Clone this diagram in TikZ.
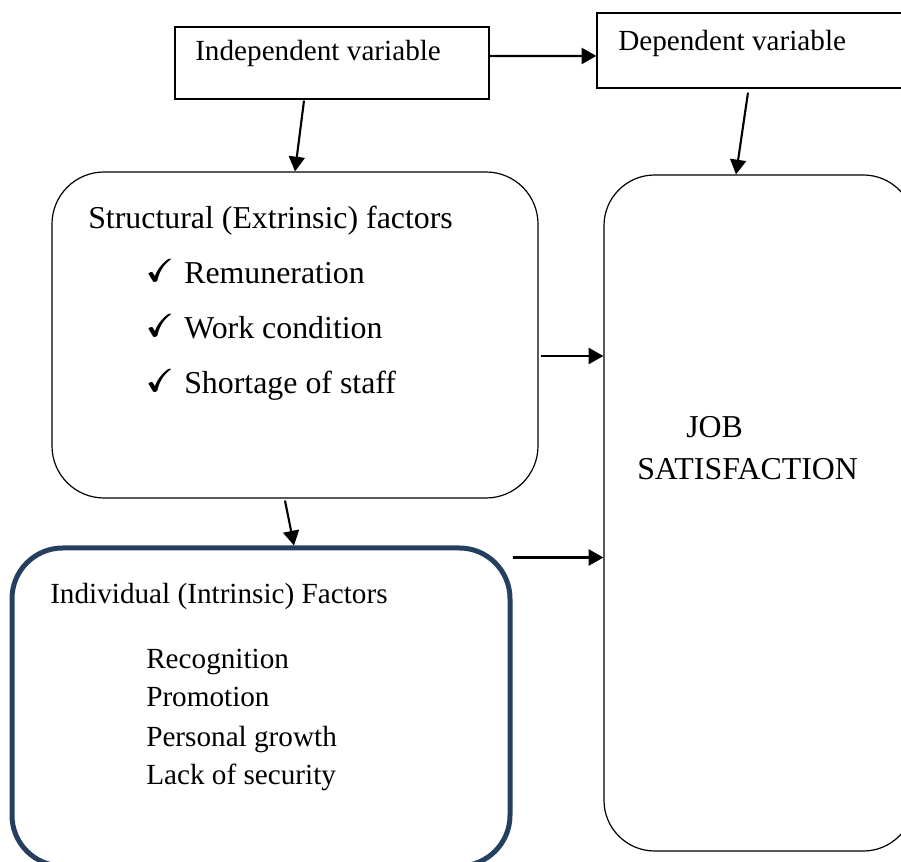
\documentclass[tikz,border=0pt]{standalone}
\usepackage{amsmath}
\usepackage{amssymb}
\usepackage{fontspec}
\setmainfont{Liberation Serif}
\usepackage{tikz}
\usetikzlibrary{arrows.meta,positioning,calc}
\definecolor{darkblue}{HTML}{243F60}

\begin{document}
\begin{tikzpicture}[x=0.75pt,y=-0.75pt,>={Triangle[length=11pt,width=12pt]},
  plain box/.style={rectangle,draw,line width=0.9pt},
  round box/.style={rectangle,draw,line width=0.9pt,rounded corners=38pt},
  small text/.style={anchor=base west,inner sep=0pt,font=\fontsize{21.9}{26}\selectfont},
  big text/.style={anchor=base west,inner sep=0pt,font=\fontsize{23.9}{28}\selectfont},
  arrow line/.style={->,line width=1.6pt}]

  \useasboundingbox (0,0) rectangle (901,862);
  \clip (0,0) rectangle (901,862);

  % boxes
  \node[plain box,minimum width=235.5pt,minimum height=54pt] at (332,63) (indep) {};
  \node[plain box,minimum width=240pt,minimum height=56.25pt] at (757,50.5) (dep) {};
  \node[round box,minimum width=364.5pt,minimum height=244.5pt,rounded corners=39pt] at (295,335) (struct) {};
  \node[round box,minimum width=232.5pt,minimum height=507pt] at (759,513) (job) {};
  \node[round box,darkblue,line width=3.75pt,minimum width=373.5pt,minimum height=238.5pt] at (261,707) (indiv) {};

  % texts
  \node[small text] at (195,61) (indeptxt) {Independent variable};
  \node[small text] at (618,51) (deptxt) {Dependent variable};
  \node[big text] at (88,229) (structtxt) {Structural (Extrinsic) factors};
  \node[big text] at (147,284) (rem) {\makebox[27.75pt][l]{\raisebox{1.5pt}{$\pmb{\checkmark}$}}Remuneration};
  \node[big text] at (147,339) (work) {\makebox[27.75pt][l]{\raisebox{1.5pt}{$\pmb{\checkmark}$}}Work condition};
  \node[big text] at (147,394) (short) {\makebox[27.75pt][l]{\raisebox{1.5pt}{$\pmb{\checkmark}$}}Shortage of staff};
  \node[big text] at (686,438) (jobtxt) {JOB};
  \node[big text] at (637,480) (sattxt) {SATISFACTION};
  \node[small text] at (50,604) (indivtxt) {Individual (Intrinsic) Factors};
  \node[small text] at (146,669) (rec) {Recognition};
  \node[small text] at (146,707) (prom) {Promotion};
  \node[small text] at (146,747) (grow) {Personal growth};
  \node[small text] at (146,785) (sec) {Lack of security};

  % connectors
  \coordinate (s1) at ([xshift=1.5pt,yshift=-15.75pt]struct.east);
  \coordinate (s2) at ([yshift=-9pt]indiv.north east);
  \draw[arrow line] ([yshift=5.25pt]indep.east) -- ([yshift=-4.1pt]dep.west);
  \draw[arrow line] ([xshift=-21pt,yshift=-0.75pt]indep.south) -- (struct.north);
  \draw[arrow line] ([xshift=-6.75pt,yshift=-3pt]dep.south) -- ([xshift=-17.25pt]job.north);
  \draw[arrow line] (s1) -- (s1 -| job.west);
  \draw[arrow line] ([xshift=-7.5pt,yshift=-1.5pt]struct.south) -- ([xshift=24.75pt]indiv.north);
  \draw[arrow line] (s2) -- (s2 -| job.west);
\end{tikzpicture}
\end{document}
